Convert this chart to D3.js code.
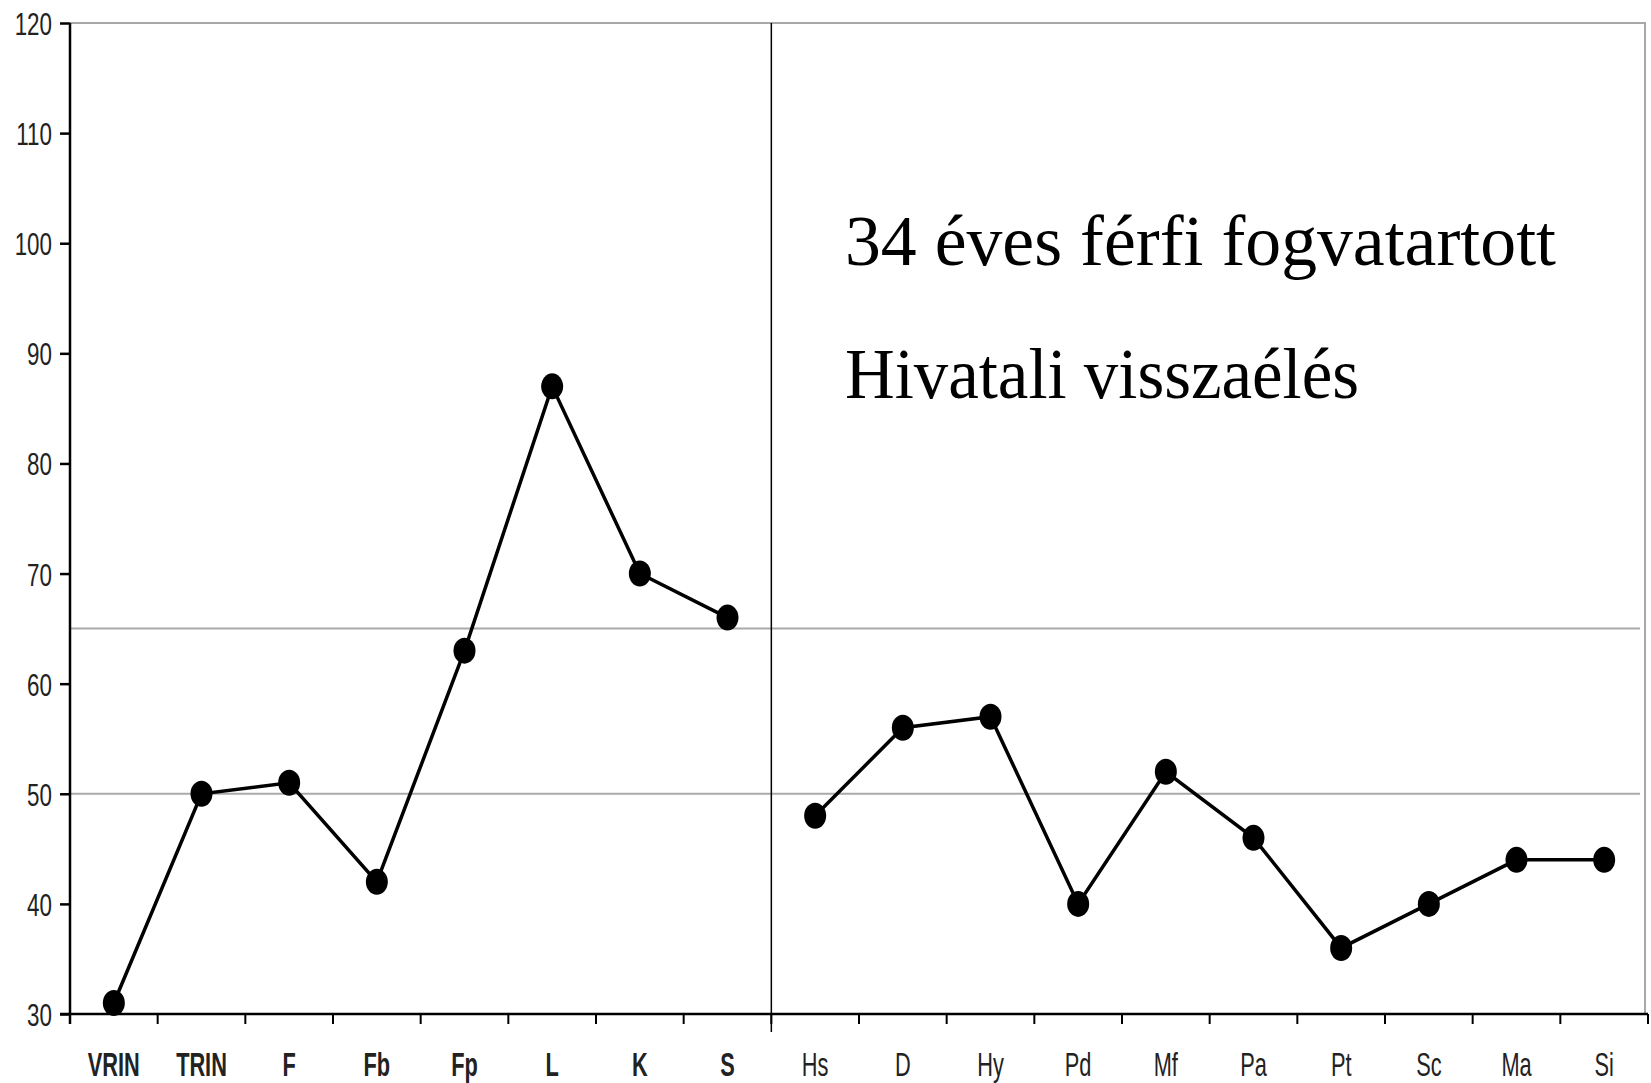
<!DOCTYPE html>
<html>
<head>
<meta charset="utf-8">
<script src="https://cdn.jsdelivr.net/npm/d3@7"></script>
<style>
  html, body { margin: 0; padding: 0; background: #fff; }
  svg { display: block; }
</style>
</head>
<body>
<svg id="chart" width="1651" height="1083"></svg>
<script>
const validityScales = ['VRIN', 'TRIN', 'F', 'Fb', 'Fp', 'L', 'K', 'S'];
const validityValues = [31, 50, 51, 42, 63, 87, 70, 66];
const clinicalScales = ['Hs', 'D', 'Hy', 'Pd', 'Mf', 'Pa', 'Pt', 'Sc', 'Ma', 'Si'];
const clinicalValues = [48, 56, 57, 40, 52, 46, 36, 40, 44, 44];
const yTicks = [30, 40, 50, 60, 70, 80, 90, 100, 110, 120];
const refLines = [65, 50];
const noteLines = ['34 éves férfi fogvatartott', 'Hivatali visszaélés'];

const svg = d3.select('#chart');
const labelFont = '"Liberation Sans", Arial, sans-serif';

const x = d3.scaleBand().domain(validityScales.concat(clinicalScales)).range([70, 1648]);
const y = d3.scaleLinear().domain([30, 120]).range([1014, 23]);
const [x0, x1] = x.range();

// frame (top + right), grey
svg.append('path')
    .attr('d', `M${x0},${y(120)}H${x1 - 3}V${y(30)}`)
    .attr('fill', 'none').attr('stroke', '#a8a8a8').attr('stroke-width', 2);

// reference lines
svg.append('g').selectAll('line')
    .data(refLines)
    .join('line')
    .attr('x1', x0).attr('x2', x1 - 8)
    .attr('y1', d => y(d)).attr('y2', d => y(d))
    .attr('stroke', '#aaa').attr('stroke-width', 2);

// divider between validity and clinical scales
svg.append('line')
    .attr('x1', x('Hs')).attr('x2', x('Hs'))
    .attr('y1', y(120)).attr('y2', y(30) + 18)
    .attr('stroke', '#000').attr('stroke-width', 1.5);

// y axis
const yAxis = svg.append('g')
    .attr('transform', `translate(${x0},0)`)
    .call(d3.axisLeft(y).tickValues(yTicks).tickSize(10).tickSizeOuter(0).tickPadding(8));
yAxis.select('.domain').attr('stroke', '#000').attr('stroke-width', 2.5)
    .attr('d', `M0,${y(120)}V${y(30) + 10}`);
yAxis.selectAll('.tick line').attr('stroke', '#000').attr('stroke-width', 2.5);
yAxis.selectAll('.tick text')
    .attr('font-family', labelFont).attr('font-size', 32).attr('fill', '#222')
    .attr('dy', '0.36em')
    .attr('transform', function () {
        const tx = +d3.select(this).attr('x');
        return `translate(${tx},0) scale(0.7,1) translate(${-tx},0)`;
    });

// x axis: line + boundary ticks
const xAxis = svg.append('g');
xAxis.append('line')
    .attr('x1', x0 - 10).attr('x2', x1)
    .attr('y1', y(30)).attr('y2', y(30))
    .attr('stroke', '#000').attr('stroke-width', 2.5);
xAxis.selectAll('line.tick')
    .data(x.domain().map(d => x(d)).concat([x1]))
    .join('line')
    .attr('class', 'tick')
    .attr('x1', d => d).attr('x2', d => d)
    .attr('y1', y(30)).attr('y2', y(30) + 10)
    .attr('stroke', '#000').attr('stroke-width', 2);
xAxis.selectAll('text')
    .data(x.domain())
    .join('text')
    .attr('transform', d => `translate(${x(d) + x.bandwidth() / 2},1076) scale(0.64,1)`)
    .attr('text-anchor', 'middle')
    .attr('font-family', labelFont).attr('font-size', 34)
    .attr('font-weight', d => validityScales.includes(d) ? 'bold' : 'normal')
    .attr('fill', '#222')
    .text(d => d);

// profile lines
const line = d3.line()
    .x(d => x(d.scale) + x.bandwidth() / 2)
    .y(d => y(d.value));

const groups = [
    validityScales.map((s, i) => ({ scale: s, value: validityValues[i] })),
    clinicalScales.map((s, i) => ({ scale: s, value: clinicalValues[i] })),
];

const plot = svg.append('g');
plot.selectAll('path')
    .data(groups)
    .join('path')
    .attr('d', line)
    .attr('fill', 'none').attr('stroke', '#000').attr('stroke-width', 3.5);

plot.selectAll('ellipse')
    .data(groups.flat())
    .join('ellipse')
    .attr('cx', d => x(d.scale) + x.bandwidth() / 2)
    .attr('cy', d => y(d.value))
    .attr('rx', 11).attr('ry', 13)
    .attr('fill', '#000');

// annotation
const noteWidths = [711, 514];
svg.append('g').selectAll('text')
    .data(noteLines)
    .join('text')
    .attr('x', 845)
    .attr('y', (d, i) => 265 + i * 133)
    .attr('font-family', '"Liberation Serif", "DejaVu Serif", serif')
    .attr('font-size', 72)
    .attr('fill', '#000')
    .attr('textLength', (d, i) => noteWidths[i])
    .attr('lengthAdjust', 'spacingAndGlyphs')
    .text(d => d);
</script>
</body>
</html>
